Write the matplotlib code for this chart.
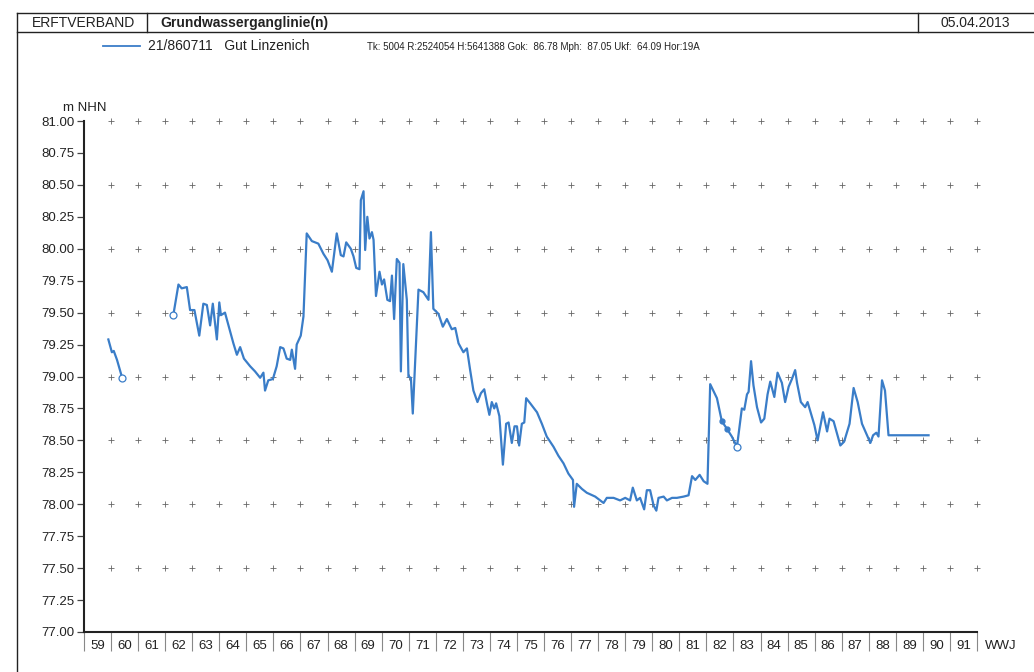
import numpy as np
import matplotlib
matplotlib.use("Agg")
import matplotlib.pyplot as plt
from matplotlib.lines import Line2D
from matplotlib.ticker import FixedLocator, NullFormatter

plt.rcParams['font.family'] = ['Liberation Sans', 'DejaVu Sans']

# Groundwater level, hydrological years (WWJ), m NHN; NaN splits measurement gaps
years = [
    59.90, 60.03, 60.10, 60.22, 60.41, np.nan,
    62.30, 62.49, 62.61, 62.80, 62.92, 63.08, 63.26, 63.41, 63.54, 63.66,
    63.76, 63.91, 64.00, 64.06, 64.21, 64.52, 64.65, 64.77, 64.91, 65.14,
    65.32, 65.51, 65.63, 65.69, 65.81, 65.98, 66.12, 66.25, 66.37, 66.49,
    66.62, 66.68, 66.80, 66.86, 67.01, 67.11, 67.23, 67.42, 67.66, 67.85,
    68.00, 68.16, 68.34, 68.49, 68.59, 68.69, 68.86, 68.96, 69.06, 69.18,
    69.23, 69.33, 69.39, 69.47, 69.55, 69.64, 69.70, 69.79, 69.92, 70.01,
    70.09, 70.21, 70.31, 70.38, 70.46, 70.56, 70.66, 70.71, 70.80, 70.93,
    70.99, 71.08, 71.15, 71.36, 71.54, 71.73, 71.82, 71.91, 72.10, 72.26,
    72.41, 72.59, 72.72, 72.84, 73.02, 73.15, 73.27, 73.39, 73.54, 73.67,
    73.79, 73.89, 73.98, 74.07, 74.16, 74.23, 74.35, 74.48, 74.60, 74.69,
    74.81, 74.91, 75.00, 75.08, 75.18, 75.27, 75.34, 75.49, 75.74, 75.92,
    76.10, 76.35, 76.53, 76.72, 76.90, 77.07, 77.11, 77.21, 77.40, 77.58,
    77.89, 78.20, 78.32, 78.57, 78.81, 79.00, 79.18, 79.28, 79.43, 79.55,
    79.70, 79.80, 79.92, 80.05, 80.15, 80.23, 80.42, 80.54, 80.73, 80.91,
    81.16, 81.34, 81.47, 81.59, 81.75, 81.90, 82.04, 82.14, 82.39, 82.57,
    82.76, 82.94, 83.13, 83.31, 83.40, 83.50, 83.56, 83.65, 83.74, 83.87,
    84.02, 84.14, 84.26, 84.36, 84.51, 84.63, 84.79, 84.91, 85.04, 85.16,
    85.28, 85.35, 85.49, 85.65, 85.74, 85.99, 86.11, 86.31, 86.46, 86.55,
    86.70, 86.95, 87.09, 87.29, 87.44, 87.59, 87.75, 88.06, 88.16, 88.28,
    88.36, 88.49, 88.60, 88.73, 90.21,
]
levels = [
    79.29, 79.19, 79.20, 79.13, 78.99, np.nan,
    79.48, 79.72, 79.69, 79.70, 79.52, 79.52, 79.32, 79.57, 79.56, 79.40,
    79.57, 79.29, 79.58, 79.48, 79.50, 79.26, 79.17, 79.23, 79.14, 79.08,
    79.04, 78.99, 79.03, 78.89, 78.97, 78.98, 79.08, 79.23, 79.22, 79.14,
    79.13, 79.21, 79.06, 79.25, 79.32, 79.47, 80.12, 80.06, 80.04, 79.96,
    79.91, 79.82, 80.12, 79.95, 79.94, 80.05, 80.00, 79.94, 79.85, 79.84,
    80.38, 80.45, 79.99, 80.25, 80.08, 80.13, 80.07, 79.63, 79.82, 79.72,
    79.76, 79.60, 79.59, 79.79, 79.45, 79.92, 79.89, 79.04, 79.88, 79.60,
    79.00, 78.99, 78.71, 79.68, 79.66, 79.60, 80.13, 79.53, 79.49, 79.39,
    79.45, 79.37, 79.38, 79.26, 79.19, 79.22, 79.05, 78.89, 78.80, 78.87,
    78.90, 78.79, 78.70, 78.80, 78.75, 78.79, 78.69, 78.31, 78.63, 78.64,
    78.48, 78.61, 78.61, 78.46, 78.63, 78.64, 78.83, 78.79, 78.72, 78.63,
    78.53, 78.45, 78.38, 78.32, 78.24, 78.19, 77.98, 78.16, 78.12, 78.09,
    78.06, 78.01, 78.05, 78.05, 78.03, 78.05, 78.03, 78.13, 78.03, 78.05,
    77.96, 78.11, 78.11, 77.99, 77.95, 78.05, 78.06, 78.03, 78.05, 78.05,
    78.06, 78.07, 78.22, 78.19, 78.23, 78.18, 78.16, 78.94, 78.83, 78.65,
    78.59, 78.53, 78.45, 78.75, 78.74, 78.86, 78.88, 79.12, 78.93, 78.76,
    78.64, 78.67, 78.86, 78.96, 78.84, 79.03, 78.95, 78.80, 78.92, 78.98,
    79.05, 78.95, 78.80, 78.76, 78.80, 78.62, 78.50, 78.72, 78.57, 78.67,
    78.65, 78.46, 78.49, 78.63, 78.91, 78.80, 78.63, 78.48, 78.54, 78.56,
    78.53, 78.97, 78.89, 78.54, 78.54,
]
# Readings flagged with an open circle
flagged_years = [60.41, 62.30, 83.13]
# Readings flagged with a small dot
dotted_years = [82.57, 82.76]

year_labels = [str(y) for y in range(59, 92)]
y_ticks = [77.00, 77.25, 77.50, 77.75, 78.00, 78.25, 78.50, 78.75,
           79.00, 79.25, 79.50, 79.75, 80.00, 80.25, 80.50, 80.75, 81.00]
grid_levels = [77.5, 78.0, 78.5, 79.0, 79.5, 80.0, 80.5, 81.0]

station = "21/860711   Gut Linzenich"
station_info = "Tk: 5004 R:2524054 H:5641388 Gok:  86.78 Mph:  87.05 Ukf:  64.09 Hor:19A"

W, H = 1034, 672
fig = plt.figure(figsize=(W / 100, H / 100), dpi=100)
fig.patch.set_facecolor('white')

def fx(px):
    return px / W

def fy(py):
    return 1 - py / H

ax = fig.add_axes([fx(84), fy(632), fx(977) - fx(84), fy(121) - fy(632)])
line_color = '#3a7dc8'

ax.plot(years, levels, color=line_color, lw=1.6, zorder=3)
yr = np.array(years)
lv = np.array(levels)
for fyr in flagged_years:
    i = int(np.nanargmin(np.abs(yr - fyr)))
    ax.plot(yr[i], lv[i], 'o', ms=5, mfc='white', mec=line_color, mew=0.9, zorder=4)
for fyr in dotted_years:
    i = int(np.nanargmin(np.abs(yr - fyr)))
    ax.plot(yr[i], lv[i], 'o', ms=3.5, mfc=line_color, mec=line_color, zorder=4)

# cross-shaped grid at full years and half metres
gx, gy = np.meshgrid(np.arange(60, 93), grid_levels)
ax.plot(gx.ravel(), gy.ravel(), '+', ms=4.5, mew=0.6, color='#666666', zorder=1,
        clip_on=False)

ax.set_xlim(59, 92)
ax.set_ylim(77, 81)
for s in ('top', 'right'):
    ax.spines[s].set_visible(False)
for s in ('left', 'bottom'):
    ax.spines[s].set_linewidth(1.5)
    ax.spines[s].set_color('#222222')

ax.set_yticks(y_ticks)
ax.set_yticklabels([f"{v:.2f}" for v in y_ticks], fontsize=9.5, color='#222222')
ax.tick_params(axis='y', direction='out', length=5, width=0.9, pad=2,
               colors='#444444', labelcolor='#222222')

ax.set_xticks(np.arange(59, 92) + 0.5)
ax.set_xticklabels(year_labels, fontsize=9.5, color='#222222')
ax.xaxis.set_minor_locator(FixedLocator(np.arange(59, 93)))
ax.xaxis.set_minor_formatter(NullFormatter())
ax.tick_params(axis='x', which='major', length=0, pad=6)
ax.tick_params(axis='x', which='minor', direction='out', length=14, width=0.8,
               colors='#888888')

fig.text(fx(63), fy(108), "m NHN", fontsize=9.5, va='center', ha='left', color='#222222')
fig.text(fx(985), fy(646), "WWJ", fontsize=9.5, va='center', ha='left', color='#222222')

# page frame and header row
frame_kw = dict(color='#222222', lw=1.0, transform=fig.transFigure)
fig.add_artist(Line2D([fx(17), 1], [fy(13), fy(13)], **frame_kw))
fig.add_artist(Line2D([fx(17), 1], [fy(32), fy(32)], **frame_kw))
fig.add_artist(Line2D([fx(17), fx(17)], [fy(13), 0], **frame_kw))
fig.add_artist(Line2D([fx(147), fx(147)], [fy(13), fy(32)], **frame_kw))
fig.add_artist(Line2D([fx(918), fx(918)], [fy(13), fy(32)], **frame_kw))

fig.text(fx(32), fy(23), "ERFTVERBAND", fontsize=10, va='center', ha='left', color='#222222')
fig.text(fx(160), fy(23), "Grundwasserganglinie(n)", fontsize=10, fontweight='bold',
         va='center', ha='left', color='#222222')
fig.text(fx(1010), fy(23), "05.04.2013", fontsize=10, va='center', ha='right', color='#222222')

fig.add_artist(Line2D([fx(103), fx(140)], [fy(46), fy(46)], color=line_color, lw=1.3,
                      transform=fig.transFigure))
fig.text(fx(148), fy(46), station, fontsize=10, va='center', ha='left', color='#222222')
fig.text(fx(367), fy(47), station_info, fontsize=7, va='center', ha='left', color='#222222')

fig.savefig("out.png", dpi=100, facecolor='white')
